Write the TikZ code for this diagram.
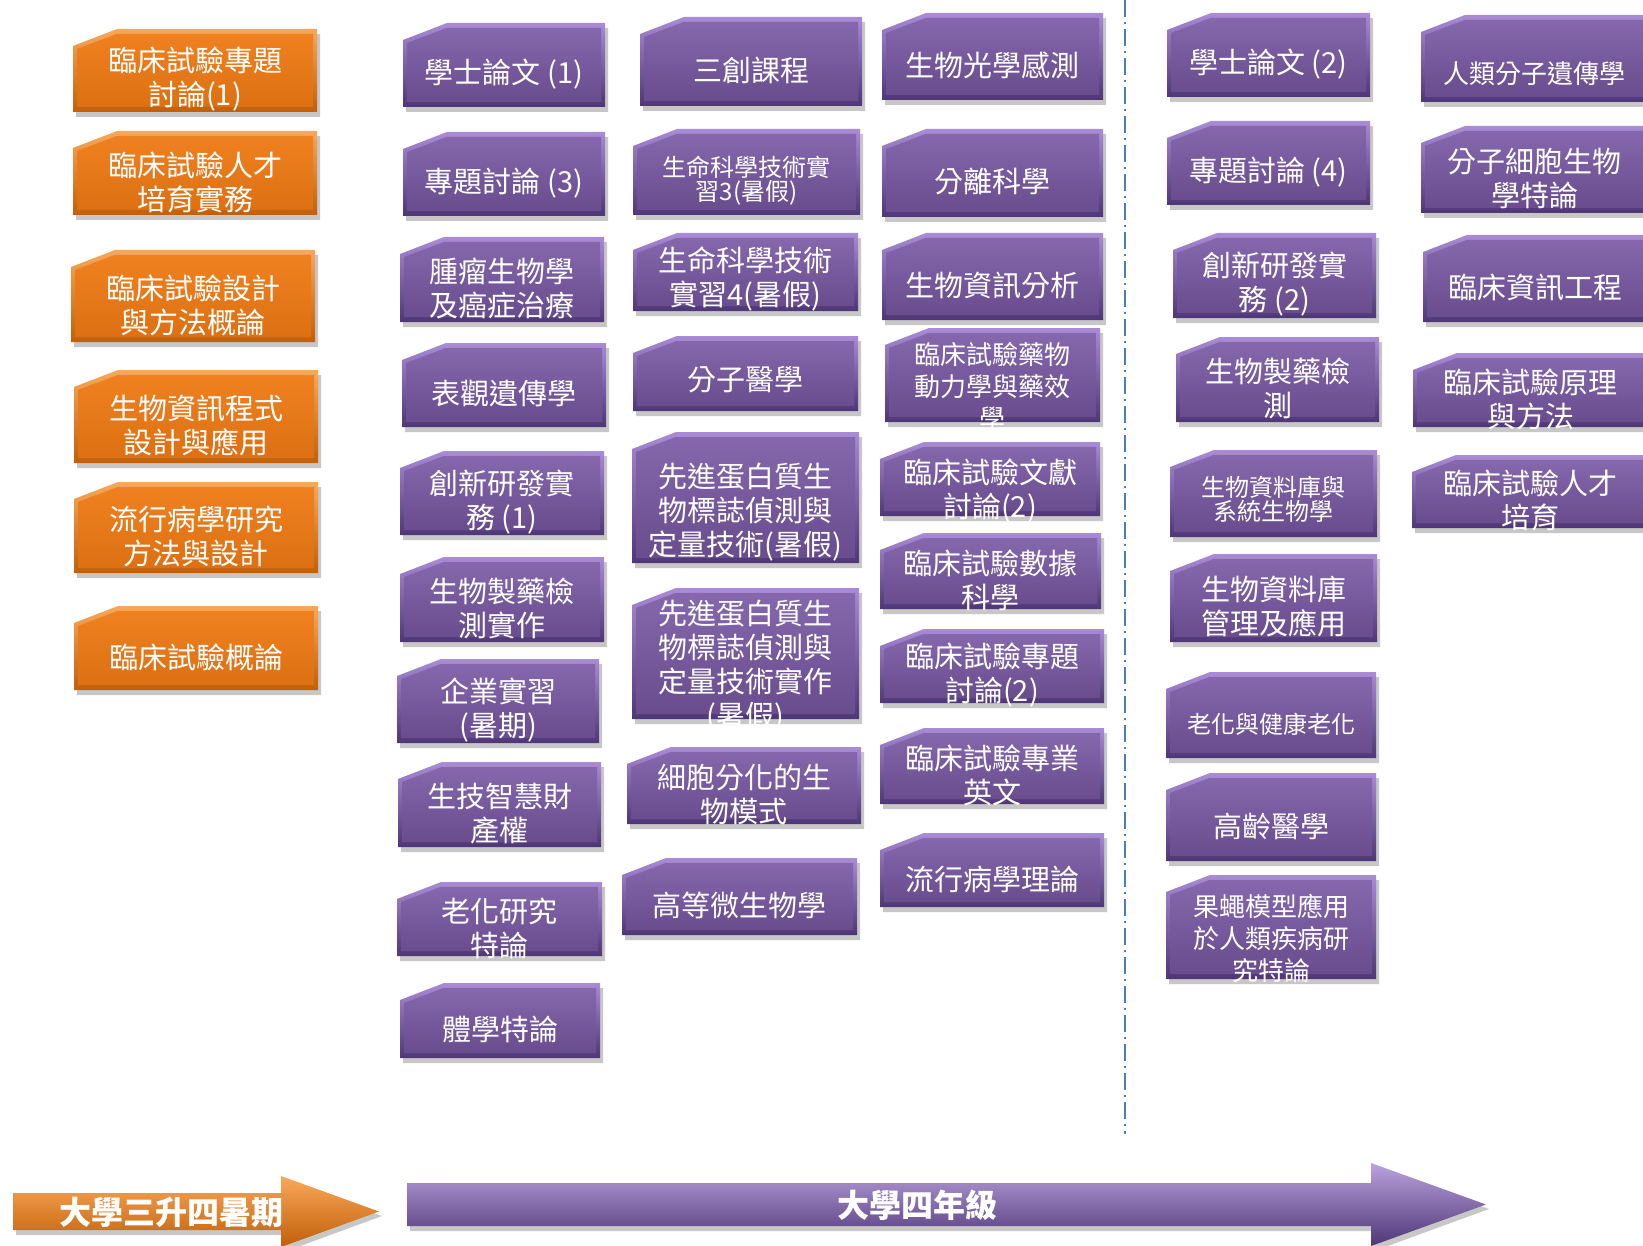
\documentclass[tikz,border=0pt]{standalone}
\usepackage{fontspec}
\setmainfont{Noto Sans CJK TC}

\definecolor{purpleface}{HTML}{7B5AA6}
\definecolor{purplelight}{HTML}{A98BD6}
\definecolor{purpledark}{HTML}{4E3677}
\definecolor{orangeface}{HTML}{EF7A14}
\definecolor{orangelight}{HTML}{F8A85A}
\definecolor{orangedark}{HTML}{C25F08}
\definecolor{dividerblue}{HTML}{4A7EBB}

% one course box: [text opts]{name}{colour}{left}{top}{right}{bottom}{text}
\newcommand\course[8][]{%
  \path[boxshadow] (#4+3,#5+22) -- (#4+47,#5+5) -- (#6+3,#5+5) -- (#6+3,#7+5) -- (#4+3,#7+5) -- cycle;
  \path[#3 rim] (#4,#5+17) -- (#4+44,#5) -- (#6,#5) -- (#6,#7) -- (#4,#7) -- cycle;
  \path[#3 face] (#4+4,#5+20) -- (#4+43.5,#5+5) -- (#6-4,#5+5) -- (#6-4,#7-5) -- (#4+4,#7-5) -- cycle;
  \node[coursetext,#1] (#2) at ({(#4+#6)/2},{(#5+#7)/2+9}) {#8};}

\begin{document}
\begin{tikzpicture}[x=0.5pt,y=-0.5pt,
    boxshadow/.style={fill=black,opacity=0.22},
    purple rim/.style={top color=purplelight,bottom color=purpledark},
    purple face/.style={top color=purpleface!92!white,bottom color=purpleface!85!black},
    orange rim/.style={top color=orangelight,bottom color=orangedark},
    orange face/.style={top color=orangeface!95!white,bottom color=orangeface!92!black},
    coursetext/.style={text=white,align=center,inner sep=0pt,font=\fontsize{14.5}{17}\selectfont},
    midtext/.style={font=\fontsize{13}{16}\selectfont},
    smalltext/.style={font=\fontsize{12}{11}\selectfont},
    divider/.style={draw=dividerblue,line width=1pt,dash pattern=on 8.5pt off 2.5pt on 1pt off 2.5pt},
    arrowtext/.style={text=white,inner sep=0pt,font=\bfseries\fontsize{16}{16}\selectfont}]
  \useasboundingbox (0,0) rectangle (1643,1246);
  \clip (0,0) rectangle (1643,1246);

  % summer before 4th year (orange)
  \course{o1}{orange}{73}{29}{317}{112}{臨床試驗專題\\討論(1)}
  \course{o2}{orange}{73}{131}{317}{215}{臨床試驗人才\\培育實務}
  \course{o3}{orange}{71}{250}{315}{342}{臨床試驗設計\\與方法概論}
  \course{o4}{orange}{74}{370}{318}{463}{生物資訊程式\\設計與應用}
  \course{o5}{orange}{74}{482}{318}{573}{流行病學研究\\方法與設計}
  \course{o6}{orange}{74}{606}{318}{690}{臨床試驗概論}

  % 4th year, first semester
  \course{a1}{purple}{403}{23}{605}{107}{學士論文 (1)}
  \course{a2}{purple}{403}{132}{605}{216}{專題討論 (3)}
  \course{a3}{purple}{400}{237}{604}{322}{腫瘤生物學\\及癌症治療}
  \course{a4}{purple}{402}{343}{606}{427}{表觀遺傳學}
  \course{a5}{purple}{400}{451}{604}{535}{創新研發實\\務 (1)}
  \course{a6}{purple}{400}{557}{604}{642}{生物製藥檢\\測實作}
  \course{a7}{purple}{397}{659}{599}{743}{企業實習\\(暑期)}
  \course{a8}{purple}{398}{762}{601}{847}{生技智慧財\\產權}
  \course{a9}{purple}{397}{882}{602}{956}{老化研究\\特論}
  \course{a10}{purple}{400}{983}{600}{1058}{體學特論}

  \course{b1}{purple}{640}{17}{862}{106}{三創課程}
  \course[smalltext]{b2}{purple}{633}{129}{860}{215}{生命科學技術實\\習3(暑假)}
  \course[yshift=1.25pt]{b3}{purple}{633}{233}{858}{311}{生命科學技術\\實習4(暑假)}
  \course[yshift=1.25pt]{b4}{purple}{633}{336}{858}{411}{分子醫學}
  \course[yshift=-3pt]{b5}{purple}{632}{432}{859}{563}{先進蛋白質生\\物標誌偵測與\\定量技術(暑假)}
  \course[yshift=-2pt]{b6}{purple}{632}{588}{859}{719}{先進蛋白質生\\物標誌偵測與\\定量技術實作\\(暑假)}
  \course{b7}{purple}{627}{747}{861}{824}{細胞分化的生\\物模式}
  \course{b8}{purple}{622}{858}{857}{935}{高等微生物學}

  \course{c1}{purple}{882}{13}{1103}{100}{生物光學感測}
  \course{c2}{purple}{882}{129}{1103}{217}{分離科學}
  \course{c3}{purple}{882}{233}{1103}{320}{生物資訊分析}
  \course[midtext,yshift=-1.25pt]{c4}{purple}{885}{328}{1100}{422}{臨床試驗藥物\\動力學與藥效\\學}
  \course[yshift=-1.75pt]{c5}{purple}{880}{442}{1100}{516}{臨床試驗文獻\\討論(2)}
  \course{c6}{purple}{880}{533}{1101}{609}{臨床試驗數據\\科學}
  \course{c7}{purple}{880}{629}{1104}{703}{臨床試驗專題\\討論(2)}
  \course{c8}{purple}{880}{728}{1104}{804}{臨床試驗專業\\英文}
  \course{c9}{purple}{880}{833}{1104}{907}{流行病學理論}

  % semester split
  \coordinate (divtop) at (1125,0);
  \coordinate (divbot) at (1125,1134);
  \draw[divider] (divtop) -- (divbot);

  % 4th year, second semester
  \course{d1}{purple}{1167}{13}{1370}{97}{學士論文 (2)}
  \course{d2}{purple}{1167}{121}{1370}{205}{專題討論 (4)}
  \course{d3}{purple}{1173}{233}{1376}{318}{創新研發實\\務 (2)}
  \course{d4}{purple}{1176}{337}{1379}{422}{生物製藥檢\\測}
  \course[smalltext,yshift=1.75pt]{d5}{purple}{1170}{450}{1377}{537}{生物資料庫與\\系統生物學}
  \course{d6}{purple}{1170}{554}{1377}{642}{生物資料庫\\管理及應用}
  \course[smalltext]{d7}{purple}{1166}{672}{1376}{758}{老化與健康老化}
  \course{d8}{purple}{1166}{773}{1376}{861}{高齡醫學}
  \course[midtext,yshift=-1pt]{d9}{purple}{1166}{875}{1376}{979}{果蠅模型應用\\於人類疾病研\\究特論}

  \course[midtext,yshift=-3pt]{e1}{purple}{1421}{15}{1648}{102}{人類分子遺傳學}
  \course{e2}{purple}{1421}{126}{1648}{213}{分子細胞生物\\學特論}
  \course{e3}{purple}{1423}{235}{1648}{322}{臨床資訊工程}
  \course{e4}{purple}{1413}{353}{1648}{427}{臨床試驗原理\\與方法}
  \course{e5}{purple}{1412}{455}{1648}{528}{臨床試驗人才\\培育}

  % time line
  \path[boxshadow] (16,1198) -- (284,1198) -- (284,1181) -- (382,1216) -- (284,1252) -- (284,1235) -- (16,1235) -- cycle;
  \path[top color=orangelight,middle color=orangeface,bottom color=orangedark]
    (13,1193) -- (281,1193) -- (281,1176) -- (379,1211.5) -- (281,1247) -- (281,1230) -- (13,1230) -- cycle;
  \node[arrowtext] (summer) at (171,1212) {大學三升四暑期};

  \path[boxshadow] (410,1188) -- (1374,1188) -- (1374,1168) -- (1489,1209) -- (1374,1251) -- (1374,1231) -- (410,1231) -- cycle;
  \path[top color=purplelight!80!white,middle color=purpleface,bottom color=purpledark]
    (407,1183) -- (1371,1183) -- (1371,1163) -- (1486,1204.5) -- (1371,1246) -- (1371,1226) -- (407,1226) -- cycle;
  \node[arrowtext] (senior) at (917,1205) {大學四年級};
\end{tikzpicture}
\end{document}
